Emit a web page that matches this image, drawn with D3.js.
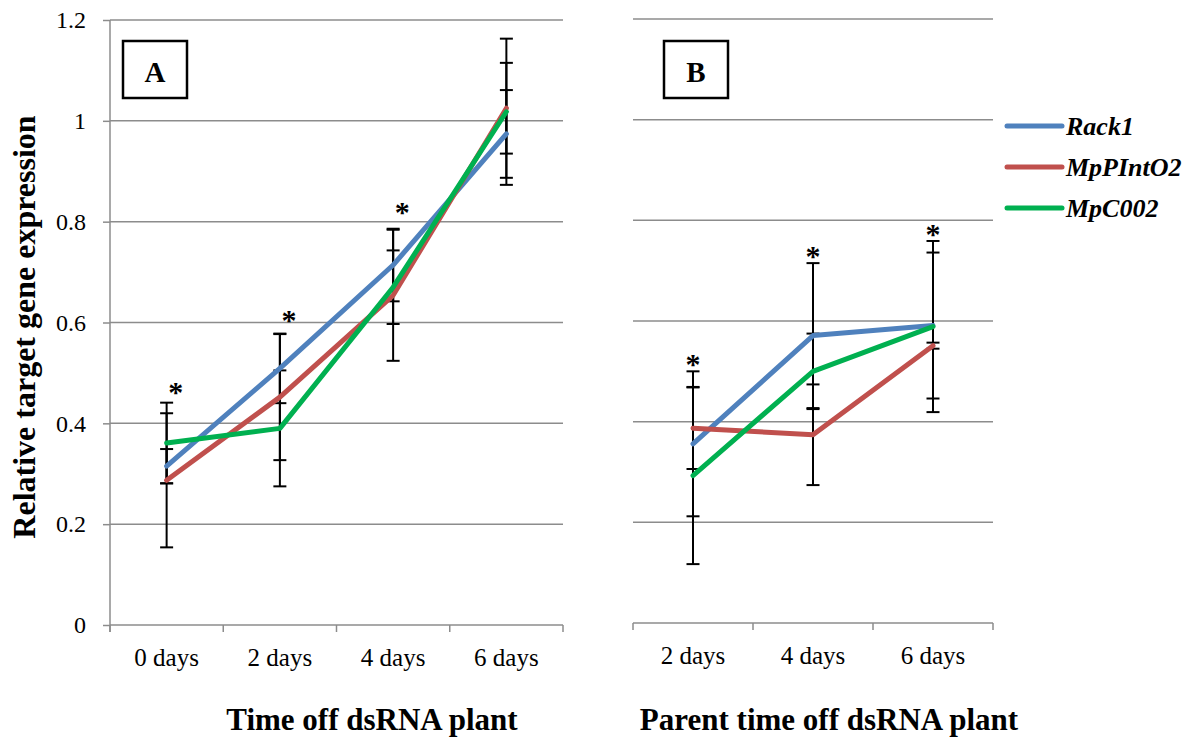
<!DOCTYPE html>
<html>
<head>
<meta charset="utf-8">
<script src="https://cdn.jsdelivr.net/npm/d3@7"></script>
<style>
  body { margin: 0; background: #fff; }
</style>
</head>
<body>
<div id="chart"></div>
<script>
// categories
var catsA = ["0 days", "2 days", "4 days", "6 days"];
var catsB = ["2 days", "4 days", "6 days"];

// series names + colours
var seriesNames = ["Rack1", "MpPIntO2", "MpC002"];
var colours = ["#4F81BD", "#C0504D", "#00B050"];

// panel A values (time off dsRNA plant)
var rack1A = [0.315, 0.509, 0.714, 0.974];
var mpPIntO2A = [0.287, 0.452, 0.654, 1.025];
var mpC002A = [0.361, 0.390, 0.670, 1.018];
var rack1ErrA = [0.034, 0.069, 0.072, 0.087];
var mpPIntO2ErrA = [0.133, 0.125, 0.130, 0.090];
var mpC002ErrA = [0.080, 0.115, 0.073, 0.145];

// panel B values (parent time off dsRNA plant)
var rack1B = [0.356, 0.571, 0.591];
var mpPIntO2B = [0.387, 0.374, 0.551];
var mpC002B = [0.293, 0.500, 0.589];
var rack1ErrB = [0.144, 0.144, 0.145];
var mpPIntO2ErrB = [0.081, 0.100, 0.006];
var mpC002ErrB = [0.176, 0.075, 0.170];

// significance stars (y value where the * sits)
var starsA = [0.472, 0.615, 0.83, null];
var starsB = [0.524, 0.74, 0.782];

var yTicks = [0, 0.2, 0.4, 0.6, 0.8, 1, 1.2];

var serif = "'Liberation Serif', Tinos, 'Times New Roman', Times, 'DejaVu Serif', serif";

var width = 1198, height = 737;
var svg = d3.select("#chart").append("svg")
    .attr("width", width)
    .attr("height", height)
    .attr("font-family", serif);

var gridColour = "#8c8c8c";

function panel(cats, values, errs, stars, xRange, yRange, starDx, label, labelBox, showYAxis) {
    var x = d3.scaleBand().domain(cats).range(xRange);
    var y = d3.scaleLinear().domain([0, 1.2]).range(yRange);
    var g = svg.append("g");

    // gridlines
    g.selectAll("line.grid")
        .data(yTicks.slice(1))
        .enter().append("line")
        .attr("x1", xRange[0]).attr("x2", xRange[1])
        .attr("y1", function (d) { return y(d); })
        .attr("y2", function (d) { return y(d); })
        .attr("stroke", gridColour)
        .attr("stroke-width", 1.5);

    // y axis
    if (showYAxis) {
        var yAxis = g.append("g")
            .attr("transform", "translate(" + xRange[0] + ",0)")
            .call(d3.axisLeft(y).tickValues(yTicks).tickSize(7).tickPadding(17)
                .tickFormat(function (d) { return d3.format("~g")(d); }));
        yAxis.attr("font-family", serif).attr("font-size", 24);
        yAxis.select(".domain").remove();
        yAxis.selectAll(".tick line").attr("stroke", gridColour).attr("stroke-width", 1.5);
        yAxis.selectAll("text").attr("fill", "#000");
        g.append("line")
            .attr("x1", xRange[0]).attr("x2", xRange[0])
            .attr("y1", y(1.2)).attr("y2", y(0) + 7)
            .attr("stroke", gridColour).attr("stroke-width", 1.5);
    }

    // bottom axis
    g.append("line")
        .attr("x1", xRange[0]).attr("x2", xRange[1])
        .attr("y1", y(0)).attr("y2", y(0))
        .attr("stroke", gridColour).attr("stroke-width", 1.5);
    var edges = cats.map(function (c) { return x(c); }).concat([xRange[1]]);
    g.selectAll("line.xtick")
        .data(edges)
        .enter().append("line")
        .attr("x1", function (d) { return d; }).attr("x2", function (d) { return d; })
        .attr("y1", y(0)).attr("y2", y(0) + 7)
        .attr("stroke", gridColour).attr("stroke-width", 1.5);
    g.selectAll("text.xlab")
        .data(cats)
        .enter().append("text")
        .attr("x", function (d) { return x(d) + x.bandwidth() / 2; })
        .attr("y", y(0) + 41)
        .attr("text-anchor", "middle")
        .attr("font-size", 25)
        .text(function (d) { return d; });

    var cx = function (i) { return x(cats[i]) + x.bandwidth() / 2; };

    // error bars
    values.forEach(function (vals, s) {
        vals.forEach(function (v, i) {
            var e = errs[s][i];
            var eg = g.append("g").attr("stroke", "#000").attr("stroke-width", 2);
            eg.append("line")
                .attr("x1", cx(i)).attr("x2", cx(i))
                .attr("y1", y(v + e)).attr("y2", y(v - e));
            [v + e, v - e].forEach(function (c) {
                eg.append("line")
                    .attr("x1", cx(i) - 6.5).attr("x2", cx(i) + 6.5)
                    .attr("y1", y(c)).attr("y2", y(c));
            });
        });
    });

    // series lines
    var line = d3.line()
        .x(function (d, i) { return cx(i); })
        .y(function (d) { return y(d); });
    g.selectAll("path.series")
        .data(values)
        .enter().append("path")
        .attr("d", line)
        .attr("fill", "none")
        .attr("stroke", function (d, i) { return colours[i]; })
        .attr("stroke-width", 5)
        .attr("stroke-linecap", "round")
        .attr("stroke-linejoin", "round");

    // stars
    stars.forEach(function (s, i) {
        if (s === null) return;
        g.append("text")
            .attr("x", cx(i) + starDx)
            .attr("y", y(s) + 15)
            .attr("text-anchor", "middle")
            .attr("font-size", 30)
            .attr("font-weight", "bold")
            .text("*");
    });

    // panel label box
    g.append("rect")
        .attr("x", labelBox[0]).attr("y", labelBox[1])
        .attr("width", labelBox[2]).attr("height", labelBox[3])
        .attr("fill", "#fff").attr("stroke", "#000").attr("stroke-width", 2.5);
    g.append("text")
        .attr("x", labelBox[0] + labelBox[2] / 2)
        .attr("y", labelBox[1] + 41)
        .attr("text-anchor", "middle")
        .attr("font-size", 29)
        .attr("font-weight", "bold")
        .text(label);
}

panel(catsA, [rack1A, mpPIntO2A, mpC002A], [rack1ErrA, mpPIntO2ErrA, mpC002ErrA], starsA,
    [110, 563], [625, 20], 9, "A", [123, 41, 64, 57], true);
panel(catsB, [rack1B, mpPIntO2B, mpC002B], [rack1ErrB, mpPIntO2ErrB, mpC002ErrB], starsB,
    [633, 993], [623, 19], 0, "B", [664, 41, 64, 57], false);

// axis titles
svg.append("text")
    .attr("transform", "translate(35,327) rotate(-90)")
    .attr("text-anchor", "middle")
    .attr("font-size", 32)
    .attr("font-weight", "bold")
    .text("Relative target gene expression");
svg.append("text")
    .attr("x", 372).attr("y", 730)
    .attr("text-anchor", "middle")
    .attr("font-size", 31)
    .attr("font-weight", "bold")
    .text("Time off dsRNA plant");
svg.append("text")
    .attr("x", 829).attr("y", 730)
    .attr("text-anchor", "middle")
    .attr("font-size", 31)
    .attr("font-weight", "bold")
    .text("Parent time off dsRNA plant");

// legend
var legend = svg.append("g").attr("transform", "translate(1007,126)");
var items = legend.selectAll("g")
    .data(seriesNames)
    .enter().append("g")
    .attr("transform", function (d, i) { return "translate(0," + (i * 41) + ")"; });
items.append("line")
    .attr("x1", 0).attr("x2", 55)
    .attr("stroke", function (d, i) { return colours[i]; })
    .attr("stroke-width", 5)
    .attr("stroke-linecap", "round");
items.append("text")
    .attr("x", 59).attr("y", 9)
    .attr("font-size", 26)
    .attr("font-weight", "bold")
    .attr("font-style", "italic")
    .text(function (d) { return d; });
</script>
</body>
</html>
